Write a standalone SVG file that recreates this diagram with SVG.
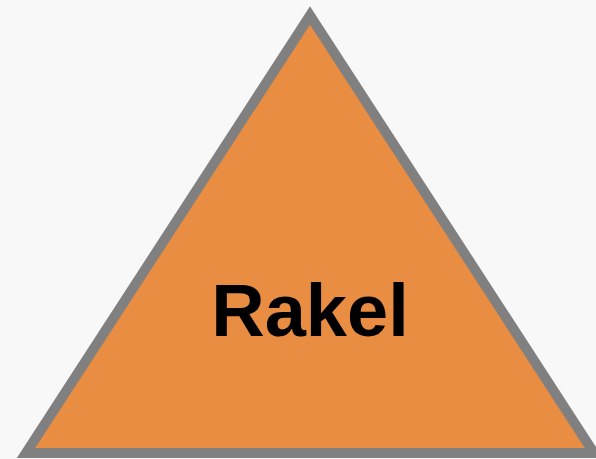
<svg xmlns="http://www.w3.org/2000/svg" width="596" height="459" viewBox="0 0 596 459">
<style>
.tri{fill:#E88D42;stroke:#808080;stroke-width:10;stroke-linejoin:miter;stroke-miterlimit:10}
.lbl{font-family:"Liberation Sans",Arial,sans-serif;font-weight:bold;font-size:74px;fill:#000;text-anchor:middle}
</style>
<rect width="596" height="459" fill="#F8F8F8"/>
<g id="node-rakel">
<polygon class="tri" points="310,15.5 594,453 26,453"/>
<text class="lbl" x="310" y="336">Rakel</text>
</g>
<g id="connectors"/>
</svg>
